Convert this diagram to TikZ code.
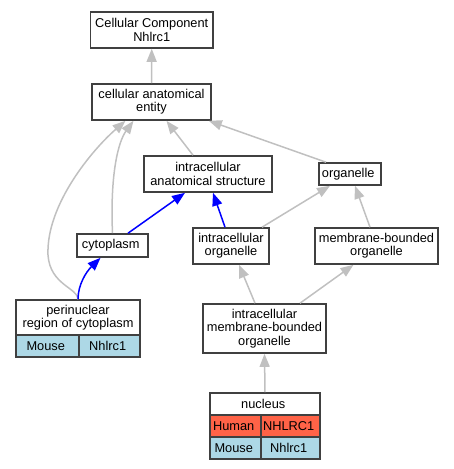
\documentclass[tikz,border=0pt]{standalone}
\usepackage{fontspec}
\setmainfont{Liberation Sans}
\usetikzlibrary{arrows.meta}

\definecolor{edgegray}{HTML}{C0C0C0}
\definecolor{termborder}{HTML}{404040}
\definecolor{human}{HTML}{FF6347}
\definecolor{mouse}{HTML}{ADD8E6}

\tikzset{
  term/.style={draw=termborder, line width=1.6pt, fill=white, align=center,
    inner sep=0pt, font=\fontsize{12.8}{13.3}\selectfont},
  isa/.style={draw=edgegray, line width=1.5pt, -{Triangle[length=13pt,width=10pt]}},
  partof/.style={isa, draw=blue}
}

\begin{document}
\begin{tikzpicture}[x=1pt,y=-1pt]
  \useasboundingbox (0,0) rectangle (453,469);

  \node [term, minimum width=122.5pt, minimum height=36pt] (cc) at (151.75,30) { Cellular Component\\Nhlrc1 };
  \node [term, minimum width=119pt, minimum height=36pt] (cae) at (151.5,102) { cellular anatomical\\entity };
  \node [term, minimum width=128pt, minimum height=36pt] (ias) at (208,174) { intracellular\\anatomical structure };
  \node [term, minimum width=62pt, minimum height=22pt] (org) at (350,174) { organelle };
  \node [term, minimum width=71pt, minimum height=23pt] (cyto) at (112.5,245.5) { cytoplasm };
  \node [term, minimum width=76pt, minimum height=36pt] (io) at (231,246) { intracellular\\organelle };
  \node [term, minimum width=123pt, minimum height=36pt] (mbo) at (376.5,246) { membrane-bounded\\organelle };
  \node [term, minimum width=123pt, minimum height=49pt] (imbo) at (264.5,328.5) { intracellular\\membrane-bounded\\organelle };

  \node [term, minimum width=124pt, minimum height=35pt] (peri) at (78,317.5) { perinuclear\\region of cytoplasm };
  \node [term, fill=mouse, minimum width=63pt, minimum height=22pt] (peri-sp) at (47.5,346) { Mouse };
  \node [term, fill=mouse, minimum width=61pt, minimum height=22pt] (peri-gene) at (109.5,346) { Nhlrc1 };

  \node [term, minimum width=110pt, minimum height=22pt] (nuc) at (265,404) { nucleus };
  \node [term, fill=human, minimum width=51pt, minimum height=22pt] (nuc-hs) at (235.5,426) { Human };
  \node [term, fill=human, minimum width=59pt, minimum height=22pt] (nuc-hg) at (290.5,426) { NHLRC1 };
  \node [term, fill=mouse, minimum width=51pt, minimum height=22pt] (nuc-ms) at (235.5,448) { Mouse };
  \node [term, fill=mouse, minimum width=59pt, minimum height=22pt] (nuc-mg) at (290.5,448) { Nhlrc1 };

  \draw [isa] (cae.north) -- (cc.south);
  \draw [isa] (cyto.north) .. controls (110,175) and (118,142) .. ([xshift=-18pt]cae.south);
  \draw [isa] (peri.north) .. controls (78,288) and (50,285) .. (48,255)
    .. controls (46,205) and (92,150) .. ([xshift=-26pt]cae.south);
  \draw [isa] ([xshift=-15pt]ias.north) -- ([xshift=15pt]cae.south);
  \draw [isa] ([xshift=-24pt]org.north) -- ([xshift=-3pt]cae.south east);

  \draw [partof] ([xshift=15.5pt]cyto.north) -- ([xshift=-23pt]ias.south);
  \draw [partof] ([xshift=-6pt]io.north) -- ([xshift=5pt]ias.south);
  \draw [partof] (peri.north) .. controls (78,285) and (86,272) .. ([xshift=-12pt]cyto.south);

  \draw [isa] ([xshift=31pt]io.north) -- ([xshift=-20pt]org.south);
  \draw [isa] ([xshift=-6.5pt]mbo.north) -- ([xshift=5pt]org.south);
  \draw [isa] ([xshift=-9.5pt]imbo.north) -- ([xshift=8pt]io.south);
  \draw [isa] ([xshift=35.5pt]imbo.north) -- ([xshift=-23pt]mbo.south);
  \draw [isa] (nuc.north) -- (imbo.south);
\end{tikzpicture}
\end{document}
